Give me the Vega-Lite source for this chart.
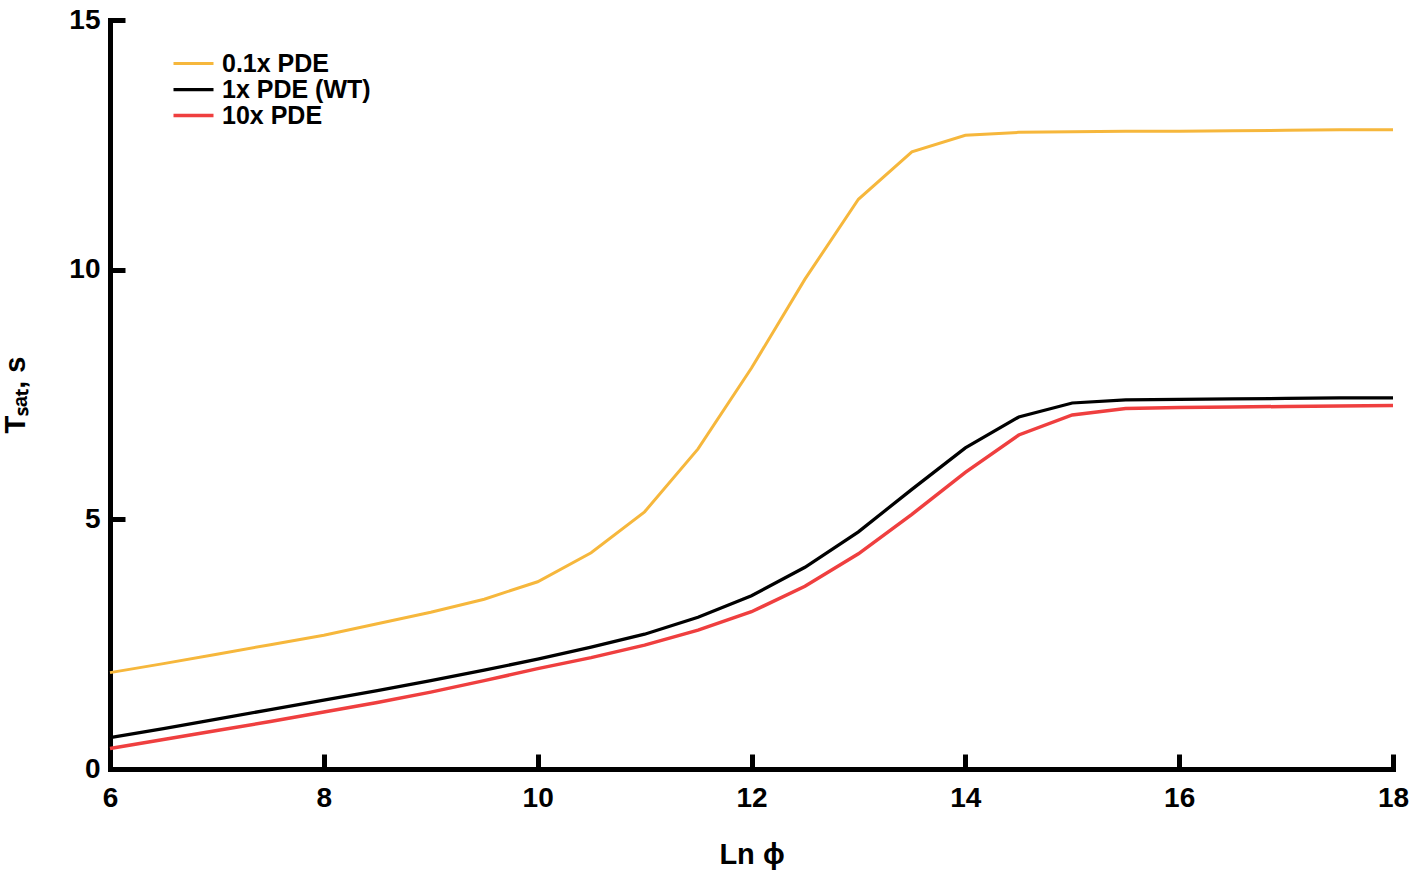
{
  "$schema": "https://vega.github.io/schema/vega-lite/v6.json",
  "autosize": {"type": "none"},
  "padding": {"left": 110, "top": 20, "right": 24, "bottom": 107},
  "width": 1283,
  "height": 749,
  "background": "white",
  "config": {
    "view": {"stroke": null},
    "font": "Liberation Sans",
    "axis": {
      "grid": false,
      "domainColor": "black",
      "domainWidth": 5,
      "domainCap": "square",
      "tickColor": "black",
      "tickWidth": 5,
      "tickSize": -15,
      "labelFlush": false,
      "labelFont": "Liberation Sans",
      "labelFontSize": 28,
      "labelFontWeight": "bold",
      "labelColor": "black",
      "titleFont": "Liberation Sans",
      "titleFontSize": 29,
      "titleFontWeight": "bold",
      "titleColor": "black"
    }
  },
  "data": {
    "values": [
      {"x": 6, "t": 1.93, "series": "0.1x PDE"},
      {"x": 6.5, "t": 2.11, "series": "0.1x PDE"},
      {"x": 7, "t": 2.30, "series": "0.1x PDE"},
      {"x": 7.5, "t": 2.49, "series": "0.1x PDE"},
      {"x": 8, "t": 2.68, "series": "0.1x PDE"},
      {"x": 8.5, "t": 2.91, "series": "0.1x PDE"},
      {"x": 9, "t": 3.14, "series": "0.1x PDE"},
      {"x": 9.5, "t": 3.40, "series": "0.1x PDE"},
      {"x": 10, "t": 3.75, "series": "0.1x PDE"},
      {"x": 10.5, "t": 4.33, "series": "0.1x PDE"},
      {"x": 11, "t": 5.15, "series": "0.1x PDE"},
      {"x": 11.5, "t": 6.41, "series": "0.1x PDE"},
      {"x": 12, "t": 8.03, "series": "0.1x PDE"},
      {"x": 12.5, "t": 9.81, "series": "0.1x PDE"},
      {"x": 13, "t": 11.41, "series": "0.1x PDE"},
      {"x": 13.5, "t": 12.36, "series": "0.1x PDE"},
      {"x": 14, "t": 12.69, "series": "0.1x PDE"},
      {"x": 14.5, "t": 12.75, "series": "0.1x PDE"},
      {"x": 15, "t": 12.76, "series": "0.1x PDE"},
      {"x": 15.5, "t": 12.77, "series": "0.1x PDE"},
      {"x": 16, "t": 12.77, "series": "0.1x PDE"},
      {"x": 16.5, "t": 12.78, "series": "0.1x PDE"},
      {"x": 17, "t": 12.79, "series": "0.1x PDE"},
      {"x": 17.5, "t": 12.80, "series": "0.1x PDE"},
      {"x": 18, "t": 12.80, "series": "0.1x PDE"},
      {"x": 6, "t": 0.63, "series": "1x PDE (WT)"},
      {"x": 6.5, "t": 0.81, "series": "1x PDE (WT)"},
      {"x": 7, "t": 1.00, "series": "1x PDE (WT)"},
      {"x": 7.5, "t": 1.19, "series": "1x PDE (WT)"},
      {"x": 8, "t": 1.38, "series": "1x PDE (WT)"},
      {"x": 8.5, "t": 1.57, "series": "1x PDE (WT)"},
      {"x": 9, "t": 1.77, "series": "1x PDE (WT)"},
      {"x": 9.5, "t": 1.98, "series": "1x PDE (WT)"},
      {"x": 10, "t": 2.20, "series": "1x PDE (WT)"},
      {"x": 10.5, "t": 2.44, "series": "1x PDE (WT)"},
      {"x": 11, "t": 2.70, "series": "1x PDE (WT)"},
      {"x": 11.5, "t": 3.04, "series": "1x PDE (WT)"},
      {"x": 12, "t": 3.47, "series": "1x PDE (WT)"},
      {"x": 12.5, "t": 4.04, "series": "1x PDE (WT)"},
      {"x": 13, "t": 4.75, "series": "1x PDE (WT)"},
      {"x": 13.5, "t": 5.60, "series": "1x PDE (WT)"},
      {"x": 14, "t": 6.43, "series": "1x PDE (WT)"},
      {"x": 14.5, "t": 7.05, "series": "1x PDE (WT)"},
      {"x": 15, "t": 7.33, "series": "1x PDE (WT)"},
      {"x": 15.5, "t": 7.39, "series": "1x PDE (WT)"},
      {"x": 16, "t": 7.40, "series": "1x PDE (WT)"},
      {"x": 16.5, "t": 7.41, "series": "1x PDE (WT)"},
      {"x": 17, "t": 7.42, "series": "1x PDE (WT)"},
      {"x": 17.5, "t": 7.43, "series": "1x PDE (WT)"},
      {"x": 18, "t": 7.43, "series": "1x PDE (WT)"},
      {"x": 6, "t": 0.41, "series": "10x PDE"},
      {"x": 6.5, "t": 0.59, "series": "10x PDE"},
      {"x": 7, "t": 0.77, "series": "10x PDE"},
      {"x": 7.5, "t": 0.95, "series": "10x PDE"},
      {"x": 8, "t": 1.14, "series": "10x PDE"},
      {"x": 8.5, "t": 1.33, "series": "10x PDE"},
      {"x": 9, "t": 1.54, "series": "10x PDE"},
      {"x": 9.5, "t": 1.77, "series": "10x PDE"},
      {"x": 10, "t": 2.01, "series": "10x PDE"},
      {"x": 10.5, "t": 2.23, "series": "10x PDE"},
      {"x": 11, "t": 2.48, "series": "10x PDE"},
      {"x": 11.5, "t": 2.78, "series": "10x PDE"},
      {"x": 12, "t": 3.15, "series": "10x PDE"},
      {"x": 12.5, "t": 3.66, "series": "10x PDE"},
      {"x": 13, "t": 4.31, "series": "10x PDE"},
      {"x": 13.5, "t": 5.10, "series": "10x PDE"},
      {"x": 14, "t": 5.94, "series": "10x PDE"},
      {"x": 14.5, "t": 6.69, "series": "10x PDE"},
      {"x": 15, "t": 7.09, "series": "10x PDE"},
      {"x": 15.5, "t": 7.22, "series": "10x PDE"},
      {"x": 16, "t": 7.24, "series": "10x PDE"},
      {"x": 16.5, "t": 7.25, "series": "10x PDE"},
      {"x": 17, "t": 7.26, "series": "10x PDE"},
      {"x": 17.5, "t": 7.27, "series": "10x PDE"},
      {"x": 18, "t": 7.28, "series": "10x PDE"}
    ]
  },
  "mark": {"type": "line", "strokeJoin": "miter", "strokeCap": "butt"},
  "encoding": {
    "x": {
      "field": "x",
      "type": "quantitative",
      "title": "Ln ϕ",
      "scale": {"domain": [6, 18], "nice": false, "zero": false},
      "axis": {"values": [6, 8, 10, 12, 14, 16, 18], "labelPadding": 30, "titlePadding": 28}
    },
    "y": {
      "field": "t",
      "type": "quantitative",
      "title": "Tₛₐₜ, s",
      "scale": {"domain": [0, 15], "nice": false},
      "axis": {"values": [0, 5, 10, 15], "labelPadding": 25, "titlePadding": 38}
    },
    "color": {
      "field": "series",
      "type": "nominal",
      "scale": {
        "domain": ["0.1x PDE", "1x PDE (WT)", "10x PDE"],
        "range": ["#F6B73C", "#000000", "#EF3F3F"]
      },
      "legend": {
        "title": null,
        "orient": "none",
        "legendX": 71,
        "legendY": 31,
        "padding": 0,
        "symbolType": "M-2,0H2",
        "symbolSize": 400,
        "labelFont": "Liberation Sans",
        "labelFontSize": 25,
        "labelFontWeight": "bold",
        "labelColor": "black",
        "labelOffset": 16,
        "rowPadding": 0,
        "encode": {
          "symbols": {
            "update": {
              "strokeWidth": {"signal": "datum.value === '10x PDE' ? 5.5 : 3.2"}
            }
          }
        }
      }
    },
    "strokeWidth": {
      "field": "series",
      "type": "nominal",
      "scale": {
        "domain": ["0.1x PDE", "1x PDE (WT)", "10x PDE"],
        "range": [3, 3.5, 5.5]
      },
      "legend": null
    }
  }
}
